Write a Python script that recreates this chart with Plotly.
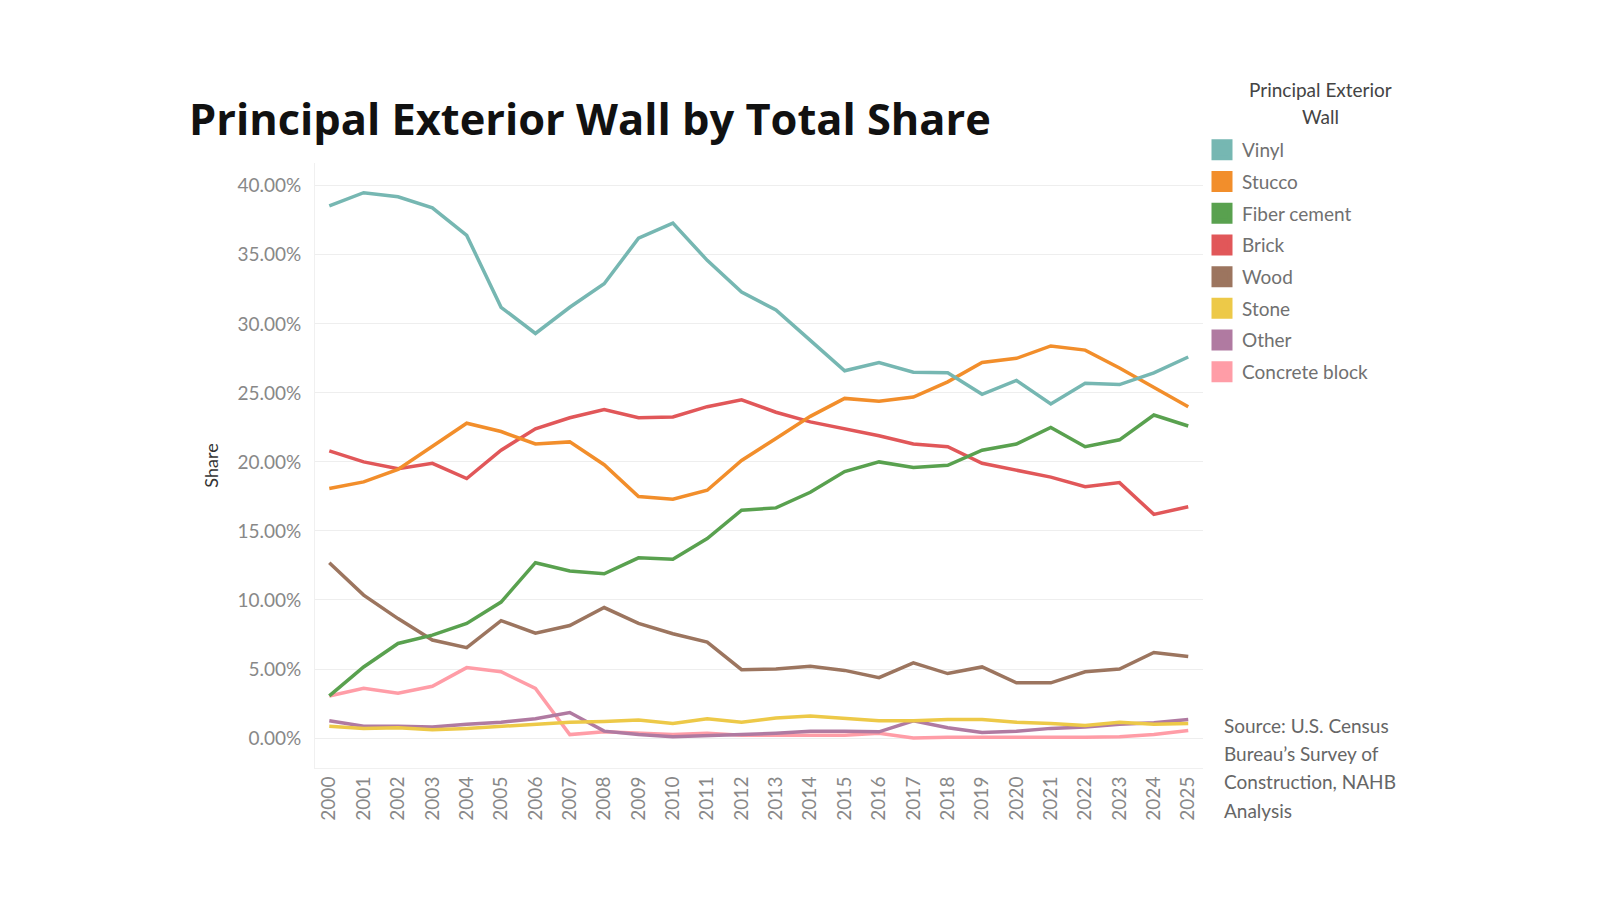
import plotly.graph_objects as go

years = list(range(2000, 2026))
year_labels = [str(y) for y in years]

vinyl = [38.55, 39.5, 39.2, 38.4, 36.4, 31.2, 29.3, 31.2, 32.9, 36.2, 37.3, 34.6, 32.3, 31.0, 28.8, 26.6,
         27.2, 26.5, 26.45, 24.9, 25.9, 24.2, 25.7, 25.6, 26.45, 27.6]
stucco = [18.07, 18.55, 19.45, 21.1, 22.8, 22.2, 21.3, 21.45, 19.8, 17.5, 17.3, 17.95, 20.1, 21.7, 23.3, 24.6,
          24.4, 24.7, 25.8, 27.2, 27.5, 28.4, 28.1, 26.8, 25.4, 24.0]
fiber_cement = [3.05, 5.15, 6.85, 7.45, 8.3, 9.85, 12.7, 12.1, 11.9, 13.05, 12.95, 14.45, 16.5, 16.67, 17.8, 19.3,
                20.0, 19.6, 19.75, 20.85, 21.3, 22.5, 21.1, 21.6, 23.4, 22.6]
brick = [20.8, 20.0, 19.5, 19.9, 18.8, 20.85, 22.4, 23.2, 23.8, 23.2, 23.25, 24.0, 24.5, 23.6, 22.9, 22.4,
         21.9, 21.3, 21.1, 19.9, 19.4, 18.9, 18.2, 18.5, 16.2, 16.75]
wood = [12.7, 10.35, 8.65, 7.1, 6.55, 8.5, 7.6, 8.15, 9.45, 8.3, 7.55, 6.95, 4.95, 5.0, 5.2, 4.9,
        4.37, 5.45, 4.67, 5.15, 4.0, 4.0, 4.8, 5.0, 6.2, 5.9]
stone = [0.85, 0.7, 0.75, 0.6, 0.7, 0.85, 0.95, 1.15, 1.2, 1.3, 1.05, 1.4, 1.15, 1.45, 1.6, 1.45,
         1.25, 1.25, 1.35, 1.35, 1.15, 1.05, 0.9, 1.15, 1.0, 1.05]
other = [1.25, 0.85, 0.85, 0.8, 1.0, 1.15, 1.4, 1.85, 0.5, 0.25, 0.1, 0.15, 0.25, 0.35, 0.5, 0.5,
         0.45, 1.25, 0.75, 0.4, 0.5, 0.7, 0.8, 1.0, 1.1, 1.35]
concrete_block = [3.05, 3.6, 3.25, 3.75, 5.1, 4.8, 3.6, 0.25, 0.45, 0.35, 0.25, 0.35, 0.2, 0.2, 0.2, 0.2,
                  0.35, 0.0, 0.05, 0.05, 0.05, 0.0, 0.05, 0.1, 0.25, 0.55]

series_names = ["Vinyl", "Stucco", "Fiber cement", "Brick", "Wood", "Stone", "Other", "Concrete block"]
series_values = [vinyl, stucco, fiber_cement, brick, wood, stone, other, concrete_block]
colors = ["#76b7b2", "#f28e2b", "#59a14f", "#e15759", "#9c755f", "#edc948", "#b07aa1", "#ff9da7"]

y_ticks = [0, 5, 10, 15, 20, 25, 30, 35, 40]
y_tick_labels = ["0.00%", "5.00%", "10.00%", "15.00%", "20.00%", "25.00%", "30.00%", "35.00%", "40.00%"]

FONT = "Lato"

# plot area in pixels
PL, PR, PT, PB = 315, 1203, 163, 767.7
PW, PH = PR - PL, PB - PT

fig = go.Figure()

# draw lines (reverse so Vinyl ends on top)
for name, vals, col in reversed(list(zip(series_names, series_values, colors))):
    fig.add_trace(go.Scatter(
        x=years, y=vals, mode="lines", name=name,
        line=dict(color=col, width=3.5),
        showlegend=False,
        hovertemplate="%{x}: %{y:.2f}%<extra>" + name + "</extra>",
    ))

# legend swatches
for i, (name, col) in enumerate(zip(series_names, colors)):
    fig.add_trace(go.Scatter(
        x=[None], y=[None], mode="markers", name=name,
        marker=dict(symbol="square", size=16, color=col, line=dict(color=col, width=5)),
        legendgroup="g" + str(i), showlegend=True,
    ))

fig.update_layout(
    width=1600, height=900,
    paper_bgcolor="white", plot_bgcolor="white",
    margin=dict(l=PL, r=1600 - PR, t=PT, b=900 - PB),
    font=dict(family=FONT, color="#555"),
    title=dict(
        text="<b>Principal Exterior Wall by Total Share</b>",
        x=189 / 1600, xanchor="left", xref="container",
        y=1 - 120 / 900, yanchor="middle", yref="container",
        font=dict(family="Open Sans", size=43.4, color="#111"),
    ),
    showlegend=True,
    legend=dict(
        x=(1202 - PL) / PW, xanchor="left", y=1 + (PT - 131) / PH, yanchor="top",
        font=dict(family=FONT, size=19, color="#707070"),
        tracegroupgap=4, traceorder="grouped",
        bgcolor="rgba(0,0,0,0)",
        itemclick=False, itemdoubleclick=False,
    ),
    xaxis=dict(
        range=[1999.584, 2025.43],
        tickmode="array", tickvals=years, ticktext=year_labels,
        tickangle=-90, ticks="", ticklabelstandoff=0,
        tickfont=dict(family=FONT, size=19, color="#888"),
        showgrid=False, zeroline=False,
        showline=True, linecolor="#f0f0f0", linewidth=1,
    ),
    yaxis=dict(
        range=[-2.17, 41.65],
        tickmode="array", tickvals=y_ticks, ticktext=y_tick_labels,
        ticks="", ticklabelstandoff=9,
        tickfont=dict(family=FONT, size=19, color="#888"),
        showgrid=True, gridcolor="#eeeeee", gridwidth=1,
        zeroline=False,
        showline=True, linecolor="#f0f0f0", linewidth=1,
        title=dict(text="Share", font=dict(family=FONT, size=18, color="#333"), standoff=14),
    ),
)

# legend title (two lines)
for k, line in enumerate(["Principal Exterior", "Wall"]):
    fig.add_annotation(
        text=line, xref="paper", yref="paper",
        x=(1320 - PL) / PW, xanchor="center",
        y=(PB - (90 + 26.7 * k)) / PH, yanchor="middle",
        showarrow=False, align="center",
        font=dict(family=FONT, size=19, color="#444"),
    )

# source note
source_lines = ["Source: U.S. Census", "Bureau\u2019s Survey of", "Construction, NAHB", "Analysis"]
for k, line in enumerate(source_lines):
    fig.add_annotation(
        text=line, xref="paper", yref="paper",
        x=(1222 - PL) / PW, xanchor="left",
        y=(PB - (725 + 28.3 * k)) / PH, yanchor="middle",
        showarrow=False, align="left",
        font=dict(family=FONT, size=19, color="#666"),
    )

fig.write_html("out.html")
